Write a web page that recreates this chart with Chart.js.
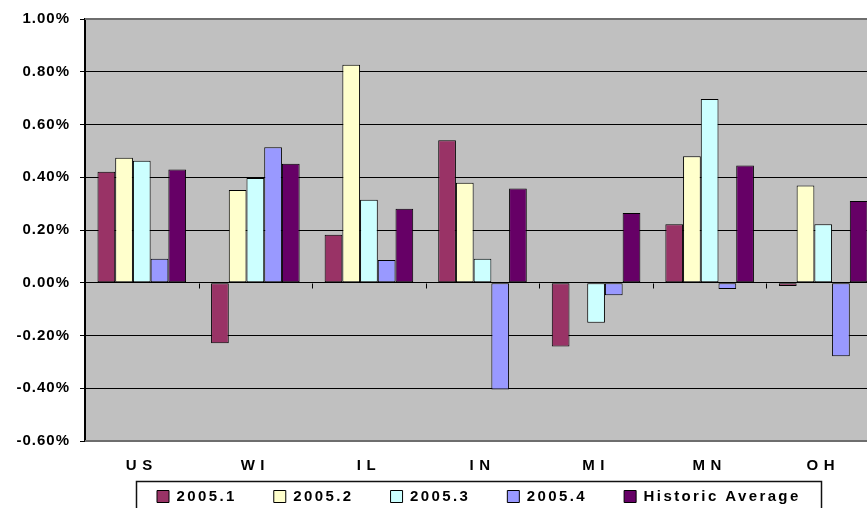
<!DOCTYPE html>
<html>
<head>
<meta charset="utf-8">
<title>Quarterly change by state</title>
<script src="https://cdn.jsdelivr.net/npm/chart.js@4/dist/chart.umd.min.js"></script>
<style>
  html, body { margin: 0; padding: 0; background: #fff; overflow: hidden; }
  #wrap { width: 880px; height: 543px; }
</style>
</head>
<body>
<div id="wrap"><canvas id="c" width="880" height="543"></canvas></div>
<script>
// ---- data (percent) ----
const regions = ['US', 'WI', 'IL', 'IN', 'MI', 'MN', 'OH'];
const q2005_1 = [0.421, -0.229, 0.182, 0.540, -0.242, 0.222, -0.012];
const q2005_2 = [0.474, 0.352, 0.827, 0.379, null, 0.480, 0.369];
const q2005_3 = [0.463, 0.397, 0.315, 0.091, -0.152, 0.697, 0.222];
const q2005_4 = [0.091, 0.514, 0.086, -0.405, -0.047, -0.024, -0.279];
const historicAvg = [0.429, 0.451, 0.281, 0.357, 0.264, 0.445, 0.310];
const seriesNames = ['2005.1', '2005.2', '2005.3', '2005.4', 'Historic Average'];
const yMin = -0.6, yMax = 1.0, yStep = 0.2;

// ---- styling ----
const seriesColors = ['#993366', '#FFFFCC', '#CCFFFF', '#9999FF', '#660066'];
const FONT_LEGEND = '"Liberation Sans", Arial, sans-serif';
const FONT_X = '"Liberation Sans", Arial, Helvetica';
const FONT_Y = "'Liberation Sans', Helvetica, sans-serif";

// run a drawing/measuring method with a given letter spacing
function withSpacing(obj, method, spacing) {
  if (!obj || obj['__sp_' + method]) return;
  const orig = obj[method];
  obj[method] = function (...args) {
    const ctx = this.ctx;
    ctx.save();
    ctx.font = '1px serif';
    ctx.letterSpacing = spacing;
    const r = orig.apply(this, args);
    ctx.restore();
    return r;
  };
  obj['__sp_' + method] = true;
}

const spacedText = {
  id: 'spacedText',
  beforeLayout(chart) {
    withSpacing(chart.legend, 'fit', '2.4px');
    withSpacing(chart.legend, 'draw', '2.4px');
    withSpacing(chart.scales.x, 'drawLabels', '5.5px');
    withSpacing(chart.scales.y, 'drawLabels', '1px');
  }
};

// place the legend row: first swatch at x 157, swatch row top at y 489
const legendPlace = {
  id: 'legendPlace',
  afterLayout(chart) {
    const lg = chart.legend;
    const pad = lg.options.labels.padding;
    const start = (lg.left + pad + lg.right - lg.lineWidths[0]) / 2;
    const dx = 157 - start;
    const dy = 489 - (lg.top + pad);
    lg.left += dx;
    lg.right += dx;
    lg.top += dy;
    lg.bottom += dy;
  }
};

const plotFrame = {
  id: 'plotFrame',
  beforeDraw(chart) {
    const { ctx, chartArea: a } = chart;
    ctx.save();
    ctx.fillStyle = '#C0C0C0';
    ctx.fillRect(a.left, a.top, a.right - a.left, a.bottom - a.top);
    ctx.restore();
  },
  beforeDatasetsDraw(chart) {
    const { ctx, chartArea: a, scales: { x, y } } = chart;
    ctx.save();
    // grey frame along top, right and bottom of the plot
    ctx.strokeStyle = '#6e6e6e';
    ctx.lineWidth = 2;
    ctx.beginPath();
    ctx.moveTo(a.left, a.top);
    ctx.lineTo(a.right, a.top);
    ctx.lineTo(a.right, a.bottom);
    ctx.lineTo(a.left, a.bottom);
    ctx.stroke();
    // category separators hanging below the zero line
    const y0 = Math.round(y.getPixelForValue(0)) + 0.5;
    ctx.strokeStyle = '#000';
    ctx.lineWidth = 1;
    ctx.beginPath();
    for (let i = 1; i <= regions.length; i++) {
      const px = i < regions.length
        ? (x.getPixelForValue(i - 1) + x.getPixelForValue(i)) / 2
        : x.right;
      const xx = Math.round(px) + 0.5;
      ctx.moveTo(xx, y0);
      ctx.lineTo(xx, y0 + 5);
    }
    ctx.stroke();
    ctx.restore();
  },
  afterDraw(chart) {
    // box around the legend
    const lg = chart.legend;
    const hb = lg.legendHitBoxes;
    if (!hb || !hb.length) return;
    const first = hb[0], last = hb[hb.length - 1];
    const { ctx } = chart;
    const left = Math.round(first.left - 21) + 0.5;
    const right = Math.round(last.left + last.width + 20) + 0.5;
    const top = Math.round(first.top - 8) + 0.5;
    ctx.save();
    ctx.strokeStyle = '#111';
    ctx.lineWidth = 1.5;
    ctx.strokeRect(left, top, right - left, chart.height + 20 - top);
    ctx.restore();
  }
};

const seriesData = [q2005_1, q2005_2, q2005_3, q2005_4, historicAvg];

new Chart(document.getElementById('c'), {
  type: 'bar',
  data: {
    labels: regions,
    datasets: seriesData.map((d, i) => ({
      label: seriesNames[i],
      data: d,
      backgroundColor: seriesColors[i],
      borderColor: '#000',
      borderWidth: 1,
      borderSkipped: false,
      categoryPercentage: 0.78,
      barPercentage: 1.0
    }))
  },
  options: {
    responsive: false,
    animation: false,
    layout: { padding: { top: 18, left: 0, right: 0, bottom: 0 } },
    plugins: {
      tooltip: { enabled: false },
      title: { display: false },
      legend: {
        position: 'bottom',
        align: 'center',
        labels: {
          boxWidth: 12,
          boxHeight: 12,
          padding: 37,
          color: '#000',
          font: { family: FONT_LEGEND, size: 15, weight: 'bold' }
        }
      }
    },
    scales: {
      x: {
        grid: { display: false },
        border: { display: false },
        ticks: {
          color: '#000',
          padding: 8,
          maxRotation: 0,
          autoSkip: false,
          font: { family: FONT_X, size: 15, weight: 'bold' }
        },
        afterFit(s) { s.height = 40; }
      },
      y: {
        min: yMin,
        max: yMax,
        grid: { color: '#000', lineWidth: 1, tickLength: 5, tickColor: '#000' },
        border: { display: true, color: '#000', width: 2 },
        ticks: {
          stepSize: yStep,
          color: '#000',
          padding: 10,
          font: { family: FONT_Y, size: 15, weight: 'bold' },
          callback: (v) => (Math.abs(v) < 1e-9 ? 0 : v).toFixed(2) + '%'
        },
        afterFit(s) { s.width = 85; }
      }
    }
  },
  plugins: [spacedText, legendPlace, plotFrame]
});
</script>
</body>
</html>
